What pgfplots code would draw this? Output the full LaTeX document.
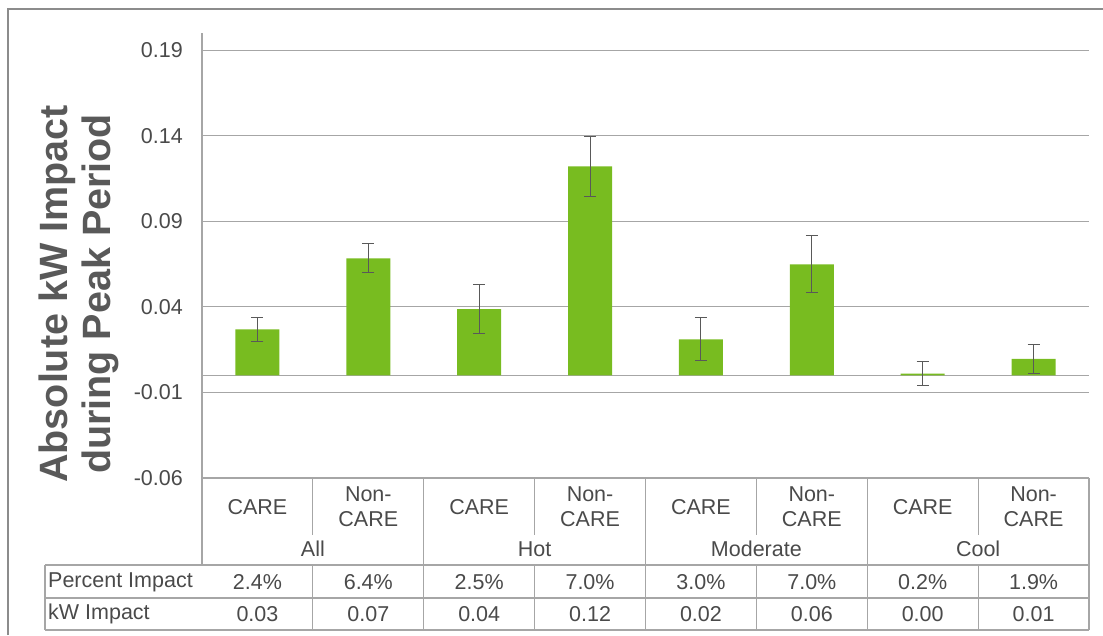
\documentclass[border=0pt]{standalone}
\usepackage{fontspec}
\setmainfont{Liberation Sans}
\usepackage{pgfplots}
\pgfplotsset{compat=1.18}
\definecolor{barg}{HTML}{78BC20}
\definecolor{txt}{HTML}{4A4A4A}
\definecolor{lin}{HTML}{A6A6A6}
\definecolor{frm}{HTML}{8C8C8C}
\definecolor{errc}{HTML}{595959}
\definecolor{ylab}{HTML}{595959}
\begin{document}
\begin{tikzpicture}
\path[use as bounding box] (0pt,0pt) rectangle (1103pt,635pt);
\draw[frm, line width=2pt] (8pt,0pt) -- (8pt,626pt) -- (1103pt,626pt);
\begin{axis}[
  at={(202pt,157pt)}, anchor=south west,
  scale only axis, width=887pt, height=445pt,
  xmin=-0.5, xmax=7.5, ymin=-0.06, ymax=0.2,
  axis x line*=bottom, axis y line*=left,
  axis line style={-, lin, line width=1.2pt},
  xtick=\empty,
  ytick={-0.06,-0.01,0.04,0.09,0.14,0.19},
  yticklabels={-0.06,-0.01,0.04,0.09,0.14,0.19},
  yticklabel style={font=\fontsize{21.5}{25}\selectfont, text=txt, inner sep=0pt, xshift=-19pt},
  major tick length=0pt,
  ymajorgrids, grid style={lin, line width=1.2pt},
  ybar, bar width=44pt,
  clip=false,
]
\draw[lin, line width=1.2pt] (axis cs:-0.5,0) -- (axis cs:7.5,0);
\addplot[fill=barg, draw=none,
  error bars/.cd, y dir=both, y explicit,
  error bar style={color=errc, line width=1pt},
  error mark options={rotate=90, mark size=6pt, color=errc, line width=1pt}]
coordinates {
  (0,0.0269) +- (0,0.0070)
  (1,0.0683) +- (0,0.0085)
  (2,0.0386) +- (0,0.0143)
  (3,0.1220) +- (0,0.0178)
  (4,0.0210) +- (0,0.0126)
  (5,0.0648) +- (0,0.0166)
  (6,0.0010) +- (0,0.0072)
  (7,0.0096) +- (0,0.0083)
};
\end{axis}
% table lines
\begin{scope}[lin, line width=1.2pt]
\draw (202pt,157pt) -- (202pt,70pt);
\draw (45pt,70pt) -- (1089pt,70pt);
\draw (45pt,37pt) -- (1089pt,37pt);
\draw (45pt,5pt) -- (1089pt,5pt);
\draw (45pt,70pt) -- (45pt,5pt);
\foreach \k in {2,4,6,8} {
  \pgfmathsetmacro{\xx}{202+110.875*\k}
  \draw (\xx pt,157pt) -- (\xx pt,5pt);
}
\foreach \k in {1,3,5,7} {
  \pgfmathsetmacro{\xx}{202+110.875*\k}
  \draw (\xx pt,157pt) -- (\xx pt,100pt);
  \draw (\xx pt,70pt) -- (\xx pt,5pt);
}
\end{scope}
\begin{scope}[every node/.style={font=\fontsize{21.5}{25}\selectfont, text=txt, inner sep=0pt}]
\foreach \k in {0,2,4,6} {
  \pgfmathsetmacro{\xx}{202+110.875*(\k+0.5)}
  \node at (\xx pt,128pt) {CARE};
  \pgfmathsetmacro{\xy}{202+110.875*(\k+1.5)}
  \node[align=center] at (\xy pt,128.5pt) {Non-\\CARE};
}
\foreach \k/\g in {1/All,3/Hot,5/Moderate,7/Cool} {
  \pgfmathsetmacro{\xx}{202+110.875*\k}
  \node at (\xx pt,86pt) {\g};
}
\node[anchor=west] at (48pt,53pt) {Percent Impact};
\node[anchor=west] at (48pt,21pt) {kW Impact};
\foreach \k/\p/\v in {0/2.4\%/0.03,1/6.4\%/0.07,2/2.5\%/0.04,3/7.0\%/0.12,4/3.0\%/0.02,5/7.0\%/0.06,6/0.2\%/0.00,7/1.9\%/0.01} {
  \pgfmathsetmacro{\xx}{202+110.875*(\k+0.5)}
  \node at (\xx pt,53pt) {\p};
  \node at (\xx pt,21pt) {\v};
}
\end{scope}
\node[rotate=90, align=center, inner sep=0pt, text=ylab,
  font=\fontsize{39.5}{43}\selectfont\bfseries] at (79pt,341pt)
  {Absolute kW Impact\\during Peak Period};
\end{tikzpicture}
\end{document}
